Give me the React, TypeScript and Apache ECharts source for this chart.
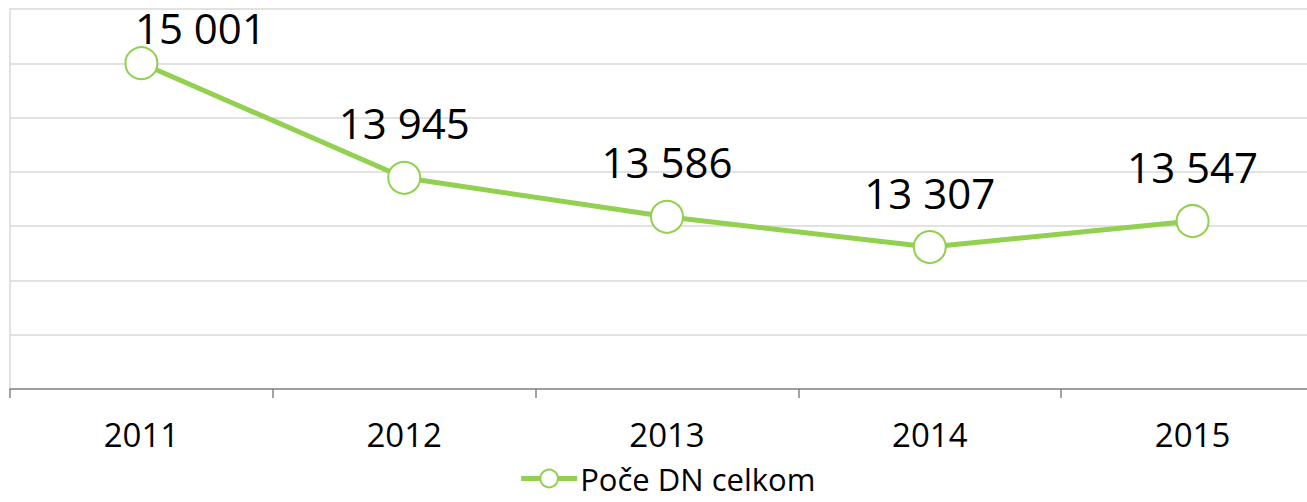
import React, { useEffect, useRef } from "react";
import * as echarts from "echarts";

const categories = ["2011", "2012", "2013", "2014", "2015"];
const values = [15001, 13945, 13586, 13307, 13547];
const seriesName = "Poče DN celkom";
const yMin = 12000;
const yMax = 15500;
const yInterval = 500;

const fmt = (v: number) => {
  const s = String(Math.round(v));
  return s.replace(/\B(?=(\d{3})+(?!\d))/g, " ");
};

export default function App() {
  const ref = useRef<HTMLDivElement>(null);
  useEffect(() => {
    document.body.style.margin = "0";
    const chart = echarts.init(ref.current!, undefined, { renderer: "svg" });
    const green = "#92d050";
    const font = "'Open Sans', 'Noto Sans', sans-serif";
    chart.setOption({
      animation: false,
      textStyle: { fontFamily: font },
      grid: { left: 10, right: 10, top: 9, bottom: 113 },
      legend: {
        left: "center",
        top: 463,
        padding: 0,
        itemWidth: 56,
        itemHeight: 22,
        itemGap: 4,
        textStyle: {
          fontSize: 31,
          lineHeight: 28,
          color: "#000",
          fontFamily: font,
          padding: [0, 0, 0, -2],
        },
        itemStyle: { color: "#fff", borderColor: green, borderWidth: 2 },
        lineStyle: { color: green, width: 5 },
        data: [{ name: seriesName }],
      },
      xAxis: {
        type: "category",
        data: categories,
        boundaryGap: true,
        axisLine: { show: true, lineStyle: { color: "#868686", width: 1.5 } },
        axisTick: { show: true, length: 9, lineStyle: { color: "#868686", width: 1.5 } },
        axisLabel: { fontSize: 33, color: "#000", margin: 29, fontFamily: font },
      },
      yAxis: {
        type: "value",
        min: yMin,
        max: yMax,
        interval: yInterval,
        axisLabel: { show: false },
        axisTick: { show: false },
        axisLine: { show: true, lineStyle: { color: "#d9d9d9", width: 1.5 } },
        splitLine: { show: true, lineStyle: { color: "#d9d9d9", width: 1.5 } },
      },
      series: [
        {
          name: seriesName,
          type: "line",
          data: values.map((v, i) =>
            i === 0 ? { value: v, label: { offset: [59, 19] } } : { value: v }
          ),
          symbol: "circle",
          symbolSize: 32,
          lineStyle: { color: green, width: 5 },
          itemStyle: { color: "#fff", borderColor: green, borderWidth: 2 },
          label: {
            show: true,
            position: "top",
            distance: 17,
            fontSize: 42,
            color: "#000",
            fontFamily: font,
            formatter: (p: any) => fmt(p.value),
          },
        },
      ],
    });
    return () => chart.dispose();
  }, []);
  return (
    <div style={{ width: 1307, height: 502, overflow: "hidden", position: "relative" }}>
      <div ref={ref} style={{ width: 1334, height: 502 }} />
    </div>
  );
}
